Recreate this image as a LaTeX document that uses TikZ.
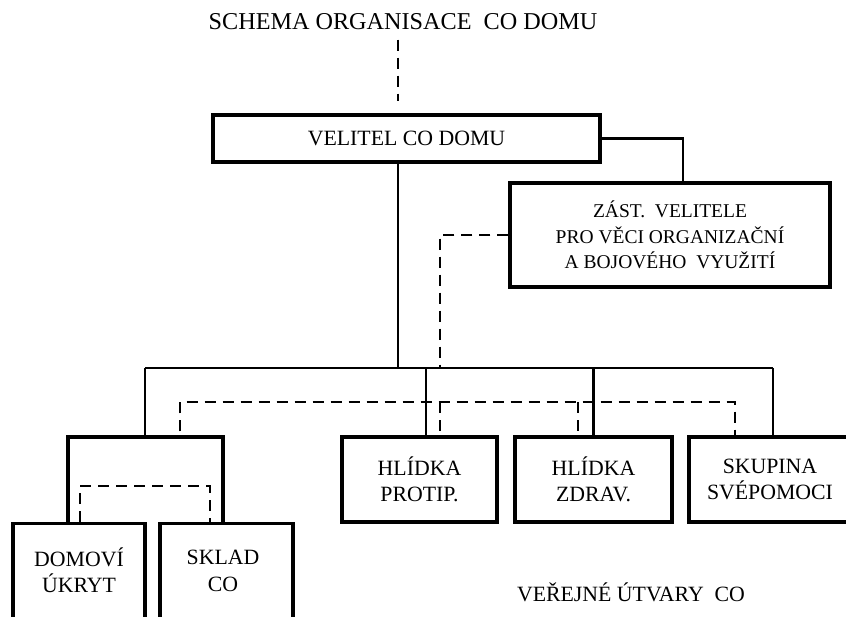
\documentclass[tikz,border=0pt]{standalone}
\usepackage{fontspec}
\setmainfont{Liberation Serif}

\tikzset{
	box/.style={draw, line width=3.1pt, inner sep=0pt, align=center, font=\fontsize{21.8}{26.5}\selectfont},
	lbl/.style={align=center, font=\fontsize{21.8}{26.5}\selectfont},
	solidline/.style={line width=2.7pt},
	dashline/.style={line width=2.7pt, dash pattern=on 11pt off 7pt},
}

\begin{document}
\begin{tikzpicture}[x=1pt, y=-1pt]
		\useasboundingbox (0,0) rectangle (846,617);
		\clip (0,0) rectangle (846,617);
		
		% top of the scheme
		\node[lbl, font=\fontsize{24.2}{28}\selectfont] (title) at (403,22) {SCHEMA ORGANISACE~ CO DOMU};
		\node[box, minimum width=387, minimum height=47] (velitel) at (406.5,138.5) {VELITEL CO DOMU};
		\node[box, minimum width=320, minimum height=104, font=\fontsize{19.5}{25.5}\selectfont] (zast) at (670,235) {ZÁST.~ VELITELE\\PRO VĚCI ORGANIZAČNÍ\\A BOJOVÉHO~ VYUŽITÍ};
		
		% units
		\node[box, minimum width=155, minimum height=85] (protip) at (419.5,479.5) {HLÍDKA\\PROTIP.};
		\node[box, minimum width=157, minimum height=85] (zdrav) at (593.5,479.5) {HLÍDKA\\ZDRAV.};
		\node[box, minimum width=162, minimum height=85] (skupina) at (770,479.5) {SKUPINA\\SVÉPOMOCI};
		\node[box, minimum width=132, minimum height=140, anchor=north] (domovi) at (79,522) {};
		\node[box, minimum width=133, minimum height=140, anchor=north] (sklad) at (226.5,522) {};
		\node[lbl] (domovitxt) at (79,570) {DOMOVÍ\\ÚKRYT};
		\node[lbl] (skladtxt) at (223,571) {SKLAD\\CO};
		\node[lbl] (verejne) at (631,592) {VEŘEJNÉ ÚTVARY~ CO};
		
		\coordinate (trunk) at (398,368);
		\coordinate (busL) at (145,368);
		\coordinate (busR) at (773,368);
		\coordinate (dashdrop) at (440,368);
		\coordinate (dashL) at (180,402);
		\coordinate (dashR) at (735,402);
		\coordinate (grpR) at (223,437);
		\coordinate (inner) at (210,486);
		
		% command lines
		\draw[dashline] ([yshift=-6pt]title.south -| trunk) -- ([yshift=12pt]velitel.north -| trunk);
		\draw[solidline] (velitel.south -| trunk) -- (trunk);
		\draw[solidline] (velitel.east) -| ([xshift=13pt]zast.north);
		\draw[dashline] (zast.west) -| (dashdrop);
		
		\draw[solidline] (busL) -- (busR);
		\draw[solidline] (busL) -- (busL |- protip.north);
		\draw[solidline] ([xshift=6.5pt]protip.north |- busL) -- ([xshift=6.5pt]protip.north);
		\draw[solidline] (zdrav.north |- busL) -- (zdrav.north);
		\draw[solidline] (busR) -- (busR |- skupina.north);
		
		\draw[dashline] ([yshift=4pt]dashL |- protip.north) -- (dashL) -- (dashR) -- (dashR |- skupina.north);
		\draw[dashline] (dashdrop |- dashL) -- (dashdrop |- protip.north);
		\draw[dashline] ([xshift=-15.5pt]zdrav.north |- dashL) -- ([xshift=-15.5pt]zdrav.north);
		
		% shelter and store
		\draw[line width=3.1pt] ([xshift=-11pt]domovi.north) |- (grpR) -- ([xshift=-3.5pt]sklad.north);
		\draw[dashline] ([xshift=1pt]domovi.north) |- (inner) -- (inner |- sklad.north);
\end{tikzpicture}
\end{document}
